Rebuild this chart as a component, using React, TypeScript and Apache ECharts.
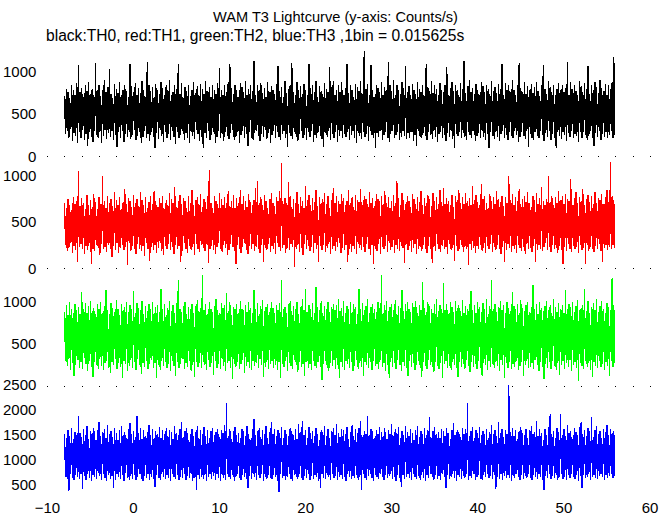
import React, { useEffect, useRef } from "react";
import * as echarts from "echarts";

const titleText = "WAM T3 Lightcurve (y-axis: Counts/s)";
const subtitleText = "black:TH0, red:TH1, green:TH2, blue:TH3 ,1bin = 0.015625s";
const xTickValues = [-10, 0, 10, 20, 30, 40, 50, 60];
const startTime = -8;
const timeStep = 0.1;

// Counts/s, alternating upper / lower excursions of the binned lightcurve
const th0 = [
  720,260,800,300,760,210,690,320,850,180,780,270,730,240,870,150,1080,290,760,220,
  810,310,700,190,840,260,770,120,880,280,740,230,800,170,720,300,1110,250,790,210,
  850,280,710,160,780,240,900,310,760,200,820,270,1040,230,740,300,690,190,860,250,
  800,110,750,280,880,220,720,300,790,170,840,260,770,230,700,290,1100,200,830,250,
  760,310,870,190,720,240,810,280,750,150,890,230,780,300,700,210,1120,260,840,180,
  770,290,820,230,700,100,860,270,790,200,740,310,880,240,810,170,730,280,850,220,
  780,260,900,190,720,300,760,230,840,140,800,280,1090,210,740,250,870,300,690,190,
  820,270,770,220,850,160,710,290,790,240,880,200,750,310,830,260,720,180,860,230,
  800,90,740,270,890,220,770,300,820,190,700,250,850,280,780,160,740,230,870,300,
  1050,220,790,260,720,180,840,290,760,240,880,200,1100,270,810,310,740,190,850,230,
  780,280,700,150,870,250,820,300,760,210,890,260,730,120,800,280,850,220,770,190,
  1130,270,720,300,840,240,790,180,870,260,750,230,810,310,700,200,880,270,760,160,
  830,250,790,300,740,210,860,280,1070,230,770,190,820,260,700,300,890,220,750,110,
  800,270,850,240,1110,200,760,290,720,230,880,180,790,260,830,300,740,220,860,250,
  780,190,720,280,1090,230,810,300,850,170,760,250,890,220,700,290,830,240,770,200,
  740,110,870,270,800,230,760,300,1060,190,820,260,890,220,730,280,790,170,840,240,
  760,300,880,210,720,260,810,230,1100,280,750,190,840,250,790,300,700,220,860,160,
  820,270,770,240,890,200,740,290,1250,230,800,260,860,180,720,300,1080,250,780,210,
  700,90,850,270,810,230,760,300,880,190,730,250,820,280,790,220,1120,170,840,260,
  770,300,900,210,720,250,850,280,790,190,740,230,880,300,810,240,1070,200,760,270,
  830,220,720,290,860,180,790,250,740,120,880,300,800,230,760,210,850,270,710,240,
  1100,190,820,280,770,250,890,200,750,300,840,230,800,170,720,260,870,290,790,220,
  760,250,850,180,1060,270,730,230,810,300,880,200,770,100,840,260,790,240,720,290,
  870,210,800,270,1130,230,750,190,830,280,900,250,760,220,810,300,740,180,860,240,
  790,270,720,210,880,300,830,230,760,190,850,260,800,100,740,280,890,240,770,200,
  820,290,750,230,860,180,800,260,1090,300,730,220,870,250,790,190,840,280,760,240,
  900,210,780,300,720,250,850,170,1110,230,810,280,760,240,880,200,740,300,830,110,
  790,260,860,220,750,190,820,290,880,240,770,210,710,300,850,250,1080,180,800,270,
  740,230,890,300,820,190,760,260,850,220,720,90,800,280,870,240,780,200,840,290,
  760,250,810,180,1120,270,730,230,880,300,800,210,850,260,770,240,720,170,890,280,
  830,220,760,290,870,250,800,190,1070,240,740,300,850,210,790,120,880,270,820,230,
  750,300,900,190,810,260,770,230,860,280,730,210,840,250,800,300,880,220,1180,250,
];

const th1 = [
  700,250,650,180,740,220,680,270,620,160,760,240,690,190,720,70,1040,230,670,260,
  750,200,700,150,630,240,790,190,680,270,730,40,660,210,800,180,710,250,640,220,
  760,140,690,260,990,200,720,230,650,170,780,250,700,210,740,120,670,240,820,190,
  730,270,680,160,760,220,640,250,710,190,850,230,690,30,750,270,720,180,660,240,
  790,200,700,150,740,260,670,210,820,180,730,240,680,130,760,270,650,200,710,80,
  770,230,690,190,830,250,720,160,660,220,750,270,700,180,780,140,640,240,730,210,
  680,260,810,190,740,230,700,150,870,250,660,200,720,240,790,60,690,180,750,270,
  720,210,650,160,780,240,700,190,840,230,680,140,730,260,760,200,690,170,800,250,
  660,220,740,180,710,260,780,50,1060,210,700,240,650,190,770,150,720,230,690,270,
  810,200,740,170,680,250,760,220,700,140,830,190,670,260,720,230,790,180,650,40,
  750,250,700,200,840,160,690,230,770,270,720,190,660,150,800,240,710,210,680,260,
  730,180,860,230,940,200,700,160,760,250,680,70,790,220,720,190,650,260,740,170,
  810,240,700,200,670,150,760,270,720,230,830,180,1130,210,690,250,750,160,700,220,
  930,190,780,260,660,230,740,10,700,200,820,250,690,170,760,220,720,140,650,260,
  880,200,730,240,790,180,680,230,750,160,710,270,840,200,670,60,760,240,700,190,
  740,250,810,170,690,220,770,260,650,150,730,200,860,240,700,180,780,230,720,270,
  690,160,800,220,750,190,680,250,720,60,840,210,700,170,760,240,660,200,790,150,
  730,260,710,220,850,190,680,230,770,170,740,260,690,200,820,140,700,250,750,40,
  670,210,800,180,740,260,720,150,780,230,690,200,830,240,700,170,760,270,650,190,
  720,230,790,160,700,250,940,200,750,180,680,240,810,220,730,50,690,260,770,190,
  720,240,660,170,800,220,740,260,690,150,760,200,710,230,830,180,680,250,750,210,
  700,160,790,240,740,200,670,50,810,230,720,180,760,260,690,210,840,170,710,240,
  860,200,690,230,750,150,720,260,680,190,790,220,660,80,770,240,730,180,840,200,
  700,250,760,170,690,230,810,210,720,30,750,260,680,190,880,220,730,160,790,240,
  710,200,680,250,900,180,740,220,770,160,700,240,650,200,800,260,720,170,760,230,
  690,190,830,250,740,210,710,150,780,230,670,60,760,190,700,260,990,220,730,170,
  800,240,680,200,760,160,720,250,850,220,690,180,740,230,780,150,710,260,820,200,
  700,220,660,170,770,240,730,60,810,190,690,250,750,210,870,180,720,230,680,270,
  740,190,990,230,710,170,780,250,680,200,760,220,700,160,830,240,730,190,770,40,
  690,230,800,180,740,260,720,210,960,170,680,240,750,200,820,230,700,160,760,250,
  720,190,850,220,680,40,740,250,790,180,710,230,770,200,690,170,820,240,700,210,
  750,260,730,180,800,70,690,220,760,250,840,190,710,230,1140,200,780,250,730,210,
];

const th2 = [
  880,300,960,240,850,320,1000,190,920,270,870,120,980,250,900,310,940,220,860,280,
  1120,200,910,330,990,260,870,180,950,300,1010,230,890,110,930,280,860,250,980,200,
  920,320,1000,240,870,190,950,270,1140,300,900,220,860,150,990,280,930,250,880,320,
  1020,200,910,270,850,230,970,100,900,300,940,260,1000,180,880,240,960,310,920,220,
  1130,280,870,190,990,320,930,250,900,140,1010,270,860,230,950,300,890,200,980,260,
  920,310,1000,220,870,270,940,90,960,250,880,190,1150,300,910,240,980,280,850,210,
  930,260,1010,180,890,300,960,240,870,120,990,280,1260,220,920,260,880,320,950,200,
  1000,270,860,230,940,300,910,180,980,250,870,110,950,290,1020,230,890,270,930,210,
  1326,280,900,250,970,190,860,310,1000,230,920,270,880,130,950,300,1040,220,900,260,
  870,200,990,320,930,240,960,180,1110,270,890,300,1000,220,850,80,940,260,910,230,
  980,290,870,200,1010,260,920,310,900,150,960,240,880,280,1000,220,930,190,870,300,
  1140,240,910,270,990,210,860,320,950,250,1020,110,890,230,940,290,970,200,880,260,
  1000,300,930,220,870,250,960,190,900,280,990,100,1260,260,910,230,940,300,870,180,
  980,270,1010,240,890,200,950,310,920,250,1000,170,860,280,940,230,1030,260,900,120,
  1150,290,880,220,960,260,920,190,990,300,870,240,1180,210,940,280,900,230,1010,70,
  870,260,950,300,910,220,1000,180,880,270,940,240,980,310,900,200,960,250,1040,90,
  890,280,930,230,1010,190,870,300,950,260,910,220,1000,280,880,180,970,240,940,310,
  860,200,1150,270,920,230,990,120,900,290,950,250,1030,210,870,280,940,190,980,300,
  910,240,880,260,1000,200,930,310,1320,230,870,270,960,180,1010,250,890,100,940,290,
  980,230,900,270,1020,200,860,310,950,250,930,180,1140,280,890,240,970,210,1000,120,
  920,300,880,230,990,270,940,190,1010,250,870,300,960,220,900,110,1240,280,930,240,
  880,200,1000,310,950,250,910,230,870,170,980,290,1030,240,890,200,960,270,920,90,
  1220,260,900,300,970,220,860,240,1000,190,940,290,880,250,1010,210,930,110,960,280,
  890,230,1020,260,870,200,950,310,910,240,980,170,1130,280,900,230,960,260,870,200,
  1000,300,940,220,880,120,990,270,920,250,1030,190,860,300,950,230,1260,260,910,210,
  970,280,880,240,940,180,1010,310,900,250,960,100,870,270,1000,220,930,290,890,200,
  1120,260,950,230,910,300,980,190,870,240,1020,280,930,120,890,250,960,300,1000,210,
  880,230,940,270,1200,200,910,310,970,250,860,180,1000,290,930,230,890,80,950,260,
  1010,220,900,280,960,200,870,300,1030,240,940,190,880,270,990,130,920,250,960,300,
  870,200,1140,270,910,230,980,310,940,180,1000,250,880,290,950,220,1020,60,900,270,
  930,240,960,200,1150,300,890,230,1010,270,870,190,940,110,990,280,900,240,1040,210,
  880,300,950,230,1010,260,920,190,870,280,990,240,940,120,900,300,1280,230,960,270,
];

const th3 = [
  1500,650,1420,600,1580,360,1460,700,1620,620,1390,580,1540,690,1470,640,1850,600,1520,710,
  1430,400,1600,660,1480,590,1650,700,1400,620,1560,570,1510,680,1620,640,1370,600,1580,720,
  1740,660,1450,580,1530,700,1600,630,1410,570,1680,690,1490,610,1560,660,1440,420,1610,590,
  1520,700,1380,640,1570,600,1650,680,1470,570,1540,720,1420,630,1600,590,1720,660,1490,610,
  1560,690,1430,580,1860,640,1510,700,1620,610,1390,560,1580,670,1460,630,1540,700,1670,590,
  1480,650,1600,600,1420,440,1550,690,1500,630,1640,580,1410,700,1570,640,1490,600,1620,680,
  1450,620,1580,570,1530,710,1400,640,1660,600,1510,680,1470,590,1590,650,1740,620,1440,700,
  1560,580,1620,660,1380,630,1500,700,1590,570,1460,620,1530,380,1650,680,1420,610,1570,650,
  1500,600,1640,690,1450,560,1580,640,1410,710,1550,600,1620,660,1480,590,1530,700,1600,630,
  1440,570,1570,680,1510,620,1680,590,2120,700,1460,640,1590,610,1400,680,1550,560,1630,650,
  1480,700,1520,620,1410,580,1600,690,1560,640,1450,600,1660,430,1500,670,1380,610,1590,700,
  1800,640,1470,590,1550,680,1620,620,1430,700,1580,570,1500,650,1650,610,1420,690,1540,630,
  1730,600,1490,680,1600,640,1460,570,1570,350,1520,700,1640,620,1410,660,1580,590,1500,640,
  1450,700,1620,610,1550,570,1480,680,1600,640,1390,600,1690,710,1530,630,1760,590,1470,670,
  1580,620,1420,700,1640,580,1510,660,1560,610,1450,690,1610,640,1490,570,1370,420,1570,700,
  1530,630,1650,600,1460,680,1590,650,1410,590,1550,700,1620,620,1480,660,1700,580,1520,640,
  1440,690,1600,610,1570,650,1490,570,1630,700,1400,640,1540,600,1680,670,1460,620,1590,690,
  1510,580,1620,650,1750,380,1430,700,1560,620,1500,590,1850,660,1470,700,1600,630,1550,570,
  1420,680,1580,640,1490,600,1640,710,1530,650,1450,590,1610,680,1390,620,1570,660,1500,700,
  1700,600,1460,650,1590,570,1520,690,1630,620,1410,440,1560,680,1480,600,1650,640,1540,710,
  1450,620,1600,580,1510,700,1380,640,1570,600,1660,670,1430,590,1550,690,1500,630,1620,560,
  1470,680,1580,620,1840,710,1420,650,1560,590,1640,690,1490,610,1530,660,1410,580,1600,700,
  1550,640,1460,420,1620,680,1510,600,1400,650,1580,700,1720,620,1480,570,1570,690,1530,640,
  1440,600,1610,670,1500,630,1590,710,2110,580,1460,660,1550,620,1640,700,1420,590,1570,650,
  1510,690,1630,610,1470,580,1560,680,1490,640,1600,700,1410,620,1540,660,1680,600,1500,690,
  1580,400,1450,650,1740,610,1520,700,1600,580,1430,660,1570,630,1490,690,2480,620,1540,570,
  1620,670,1460,620,1580,700,1400,640,1550,590,1640,680,1510,600,1470,660,1590,630,1420,710,
  1570,620,1650,580,1490,690,1540,640,1760,610,1450,700,1600,650,1520,590,1380,380,1590,670,
  1470,620,1630,700,1900,600,1500,660,1560,630,1420,690,1610,580,1540,650,1900,700,1480,610,
  1590,640,1450,590,1670,680,1510,620,1560,700,1400,650,1620,600,1530,690,1480,570,1640,660,
  1740,420,1500,690,1580,620,1460,650,1610,700,1550,590,1840,640,1430,680,1570,620,1650,600,
  1490,670,1560,710,1420,640,1600,590,1530,680,1680,620,1470,660,1590,700,1510,630,1560,650,
];

const seriesColors = ["#000000", "#ff0000", "#00ff00", "#0000ff"];
const seriesNames = ["TH0", "TH1", "TH2", "TH3"];

const FONT = "Liberation Sans";

function toPoints(values: number[]) {
  return values.map((v, i) => [startTime + i * timeStep, v]);
}

export default function App() {
  const ref = useRef<HTMLDivElement>(null);

  useEffect(() => {
    if (!ref.current) return;
    const chart = echarts.init(ref.current, undefined, { renderer: "svg" });

    const all = [th0, th1, th2, th3];
    const grids = [
      { left: 46, width: 604, top: 44, height: 112 },
      { left: 46, width: 604, top: 157, height: 111 },
      { left: 46, width: 604, top: 270, height: 116 },
      { left: 46, width: 604, top: 384, height: 110 },
    ];
    const yCfg = [
      { min: 0, max: 1333, interval: 500, hide: [] as number[] },
      { min: 0, max: 1195, interval: 500, hide: [] as number[] },
      { min: 0, max: 1380, interval: 500, hide: [0] },
      { min: 300, max: 2500, interval: 100, hide: [] as number[] },
    ];

    const labelStyle = { color: "#000", fontSize: 15, fontFamily: FONT };

    const option: any = {
      animation: false,
      backgroundColor: "#ffffff",
      title: [
        {
          text: titleText,
          left: 213,
          top: 9.5,
          padding: 0,
          textStyle: { color: "#000", fontSize: 14.6, fontWeight: "normal", fontFamily: FONT },
        },
        {
          text: subtitleText,
          left: 46,
          top: 27,
          padding: 0,
          textStyle: { color: "#000", fontSize: 15.6, fontWeight: "normal", fontFamily: FONT },
        },
      ],
      grid: grids,
      xAxis: grids.map((_, k) => {
        const last = k === grids.length - 1;
        return {
          type: "value",
          gridIndex: k,
          min: xTickValues[0],
          max: xTickValues[xTickValues.length - 1],
          interval: last ? 10 : 2,
          axisLine: { show: false },
          splitLine: { show: false },
          axisTick: last
            ? { show: false }
            : { show: true, length: 1, lineStyle: { color: "#000", width: 1 } },
          axisLabel: last
            ? {
                show: true,
                margin: 6,
                ...labelStyle,
                formatter: (v: number) => String(v).replace("-", "\u2212"),
              }
            : { show: false },
        };
      }),
      yAxis: yCfg.map((c, k) => ({
        type: "value",
        gridIndex: k,
        min: c.min,
        max: c.max,
        interval: c.interval,
        axisLine: { show: false },
        axisTick: { show: false },
        splitLine: { show: false },
        axisLabel: {
          margin: 11,
          ...labelStyle,
          formatter: (v: number) =>
            v % 500 === 0 && c.hide.indexOf(v) < 0 ? String(v) : "",
        },
      })),
      series: all.map((vals, k) => ({
        name: seriesNames[k],
        type: "line",
        xAxisIndex: k,
        yAxisIndex: k,
        data: toPoints(vals),
        showSymbol: false,
        symbol: "none",
        lineStyle: { color: seriesColors[k], width: 1.2, join: "bevel" },
        itemStyle: { color: seriesColors[k] },
        emphasis: { disabled: true },
        silent: true,
      })),
    };

    chart.setOption(option);
    const svg = ref.current.querySelector("svg");
    if (svg) svg.setAttribute("shape-rendering", "crispEdges");
    return () => chart.dispose();
  }, []);

  return (
    <div
      ref={ref}
      style={{ position: "fixed", left: 0, top: 0, width: 672, height: 515, background: "#fff" }}
    />
  );
}
